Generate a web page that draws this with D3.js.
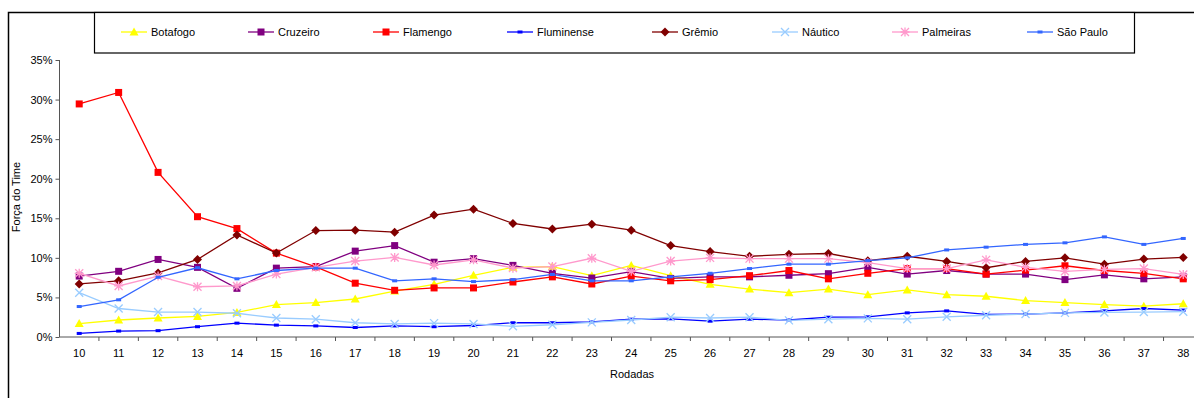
<!DOCTYPE html>
<html>
<head>
<meta charset="utf-8">
<script src="https://cdn.jsdelivr.net/npm/d3@7/dist/d3.min.js"></script>
<style>
  html, body { margin: 0; padding: 0; background: #fff; }
  svg { display: block; font-family: Arial, "Liberation Sans", sans-serif; }
</style>
</head>
<body>
<svg id="chart" width="1194" height="398"></svg>
<script>
// Rounds of the championship (x categories)
const rounds = d3.range(10, 39);

// Team strength per round, in percent
const botafogo   = [1.7, 2.15, 2.4, 2.6, 3.1, 4.1, 4.35, 4.8, 5.8, 6.65, 7.8, 8.8, 8.9, 7.75, 9.05, 7.75, 6.65, 6.05, 5.6, 6.05, 5.35, 5.95, 5.35, 5.15, 4.6, 4.35, 4.1, 3.9, 4.2];
const cruzeiro   = [7.7, 8.3, 9.8, 8.8, 6.15, 8.7, 8.9, 10.85, 11.55, 9.45, 9.9, 9.05, 8.05, 7.45, 8.25, 7.4, 7.6, 7.6, 7.8, 8.0, 8.8, 7.95, 8.4, 7.95, 7.95, 7.25, 7.85, 7.35, 7.6];
const flamengo   = [29.45, 30.9, 20.8, 15.2, 13.7, 10.6, 8.85, 6.8, 5.9, 6.2, 6.2, 6.95, 7.6, 6.7, 7.7, 7.1, 7.25, 7.75, 8.4, 7.35, 8.05, 8.65, 8.65, 7.95, 8.45, 9.0, 8.4, 8.05, 7.35];
const fluminense = [0.45, 0.75, 0.8, 1.3, 1.75, 1.5, 1.4, 1.2, 1.4, 1.3, 1.45, 1.8, 1.8, 1.9, 2.25, 2.3, 2.0, 2.25, 2.15, 2.5, 2.55, 3.05, 3.3, 2.85, 2.9, 3.05, 3.3, 3.6, 3.4];
const gremio     = [6.7, 7.1, 8.1, 9.8, 12.9, 10.6, 13.45, 13.5, 13.25, 15.4, 16.15, 14.35, 13.65, 14.25, 13.5, 11.55, 10.8, 10.2, 10.45, 10.55, 9.65, 10.2, 9.55, 8.75, 9.55, 10.0, 9.2, 9.85, 10.05];
const nautico    = [5.6, 3.6, 3.15, 3.15, 3.0, 2.4, 2.25, 1.8, 1.65, 1.75, 1.65, 1.35, 1.55, 1.85, 2.15, 2.5, 2.4, 2.5, 2.1, 2.25, 2.35, 2.25, 2.55, 2.75, 2.9, 3.05, 3.1, 3.15, 3.2];
const palmeiras  = [8.05, 6.45, 7.7, 6.35, 6.45, 7.95, 8.8, 9.6, 10.05, 9.1, 9.75, 8.7, 8.9, 9.95, 8.3, 9.6, 10.0, 9.9, 9.9, 9.9, 9.4, 8.65, 8.65, 9.75, 8.8, 8.3, 8.55, 8.65, 7.9];
const saoPaulo   = [3.85, 4.7, 7.55, 8.75, 7.35, 8.4, 8.7, 8.7, 7.1, 7.35, 7.0, 7.25, 7.9, 7.1, 7.1, 7.6, 8.05, 8.65, 9.2, 9.2, 9.65, 10.0, 11.0, 11.35, 11.7, 11.9, 12.65, 11.7, 12.45];

const teamNames = ["Botafogo", "Cruzeiro", "Flamengo", "Fluminense", "Grêmio", "Náutico", "Palmeiras", "São Paulo"];
const yTicks = [0, 5, 10, 15, 20, 25, 30, 35];

// Visual style of each team's line and marker
const styles = [
  { color: "#FFFF00", marker: "triangle" },
  { color: "#800080", marker: "square" },
  { color: "#FF0000", marker: "square" },
  { color: "#0000FF", marker: "dash" },
  { color: "#800000", marker: "diamond" },
  { color: "#99CCFF", marker: "cross" },
  { color: "#FF99CC", marker: "star" },
  { color: "#3366FF", marker: "dash" }
];

const seriesValues = [botafogo, cruzeiro, flamengo, fluminense, gremio, nautico, palmeiras, saoPaulo];
const series = teamNames.map((name, i) => ({
  name,
  ...styles[i],
  points: rounds.map((r, j) => ({ round: r, value: seriesValues[i][j] }))
}));

const svg = d3.select("#chart");

// Plot area
const plot = { left: 59.5, top: 60, bottom: 337 };
const step = 39.43;

const x = d3.scaleBand()
  .domain(rounds)
  .range([plot.left, plot.left + step * rounds.length])
  .paddingInner(0).paddingOuter(0);

const y = d3.scaleLinear()
  .domain([0, 35])
  .range([plot.bottom, plot.top]);

const cx = r => x(r) + x.bandwidth() / 2;

// Outer chart frame (left and top edges)
svg.append("path")
  .attr("d", "M8.5,398 V12.5 H1194")
  .attr("fill", "none")
  .attr("stroke", "#000")
  .attr("stroke-width", 1.5);

// Y axis
const yAxis = d3.axisLeft(y)
  .tickValues(yTicks)
  .tickSize(4)
  .tickPadding(3)
  .tickFormat(d => d + "%");

const gy = svg.append("g")
  .attr("transform", `translate(${plot.left},0)`)
  .call(yAxis);
gy.select(".domain").attr("stroke", "#555").attr("d", `M0,${plot.bottom}V${plot.top}`);
gy.selectAll(".tick line").attr("stroke", "#555");
gy.selectAll(".tick text")
  .attr("fill", "#000")
  .style("font-size", "11px")
  .style("font-family", "Arial, 'Liberation Sans', sans-serif");

// X axis: tick marks on category boundaries, labels at category centers
const gx = svg.append("g").attr("class", "x-axis");
gx.append("line")
  .attr("x1", plot.left).attr("x2", 1194)
  .attr("y1", plot.bottom).attr("y2", plot.bottom)
  .attr("stroke", "#555");
gx.selectAll("line.tick")
  .data(rounds)
  .join("line")
  .attr("class", "tick")
  .attr("x1", d => x(d) + x.bandwidth())
  .attr("x2", d => x(d) + x.bandwidth())
  .attr("y1", plot.bottom).attr("y2", plot.bottom + 4)
  .attr("stroke", "#555");
gx.selectAll("text")
  .data(rounds)
  .join("text")
  .attr("x", cx)
  .attr("y", plot.bottom + 20)
  .attr("text-anchor", "middle")
  .style("font-size", "11px")
  .text(d => d);

// Axis titles
svg.append("text")
  .attr("x", 632)
  .attr("y", 378)
  .attr("text-anchor", "middle")
  .style("font-size", "11px")
  .text("Rodadas");

svg.append("text")
  .attr("transform", "translate(20,197) rotate(-90)")
  .attr("text-anchor", "middle")
  .style("font-size", "11px")
  .text("Força do Time");

// Marker drawing
function drawMarker(g, type, color) {
  switch (type) {
    case "square":
      g.append("rect").attr("x", -3.5).attr("y", -3.5).attr("width", 7).attr("height", 7).attr("fill", color);
      break;
    case "triangle":
      g.append("path").attr("d", "M0,-4.5 L4.5,3.5 L-4.5,3.5 Z").attr("fill", color);
      break;
    case "diamond":
      g.append("path").attr("d", "M0,-4.5 L4.5,0 L0,4.5 L-4.5,0 Z").attr("fill", color);
      break;
    case "dash":
      g.append("rect").attr("x", -2.5).attr("y", -1.5).attr("width", 5).attr("height", 3).attr("fill", color);
      break;
    case "cross":
      g.append("path").attr("d", "M-4,-4 L4,4 M-4,4 L4,-4").attr("stroke", color).attr("stroke-width", 1.3).attr("fill", "none");
      break;
    case "star":
      g.append("path").attr("d", "M-4,-4 L4,4 M-4,4 L4,-4 M0,-4.5 V4.5 M-4.5,0 H4.5")
        .attr("stroke", color).attr("stroke-width", 1.3).attr("fill", "none");
      break;
  }
}

// Lines and markers
const line = d3.line()
  .x(d => cx(d.round))
  .y(d => y(d.value));

const gSeries = svg.append("g").attr("class", "series");
series.forEach(s => {
  const g = gSeries.append("g");
  g.append("path")
    .datum(s.points)
    .attr("fill", "none")
    .attr("stroke", s.color)
    .attr("stroke-width", 1.3)
    .attr("d", line);
  g.selectAll("g.pt")
    .data(s.points)
    .join("g")
    .attr("class", "pt")
    .attr("transform", d => `translate(${cx(d.round)},${y(d.value)})`)
    .each(function () { drawMarker(d3.select(this), s.marker, s.color); });
});

// Legend
const legendBox = { x: 94.5, y: 12.5, w: 1040, h: 40.5 };
svg.append("rect")
  .attr("x", legendBox.x).attr("y", legendBox.y)
  .attr("width", legendBox.w).attr("height", legendBox.h)
  .attr("fill", "#fff")
  .attr("stroke", "#000")
  .attr("stroke-width", 1.2);

const legendX = [121, 248, 373, 507, 652, 772, 892, 1027];
const legendY = 32;
const gLegend = svg.append("g").attr("class", "legend");
series.forEach((s, i) => {
  const item = gLegend.append("g").attr("transform", `translate(${legendX[i]},${legendY})`);
  item.append("line")
    .attr("x1", 0).attr("x2", 26)
    .attr("stroke", s.color).attr("stroke-width", 1.3);
  drawMarker(item.append("g").attr("transform", "translate(13,0)"), s.marker, s.color);
  item.append("text")
    .attr("x", 30)
    .attr("y", 4)
    .style("font-size", "11px")
    .text(s.name);
});
</script>
</body>
</html>
